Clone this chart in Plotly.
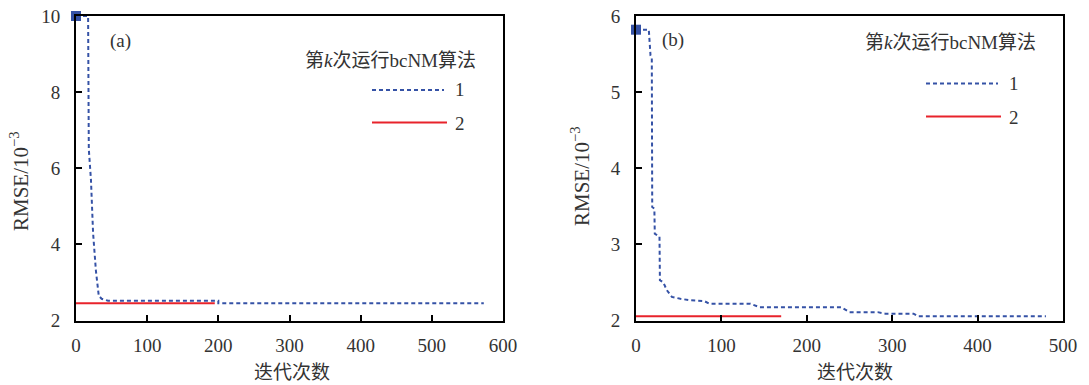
import plotly.graph_objects as go

# ---- data ----
a_run1_x = [0, 17, 18, 21, 24, 28, 32, 36, 45, 200, 200, 573]
a_run1_y = [10, 10, 6.5, 5.7, 4.3, 3.3, 2.65, 2.57, 2.52, 2.52, 2.45, 2.45]
a_run2_x = [0, 195]
a_run2_y = [2.455, 2.455]

b_run1_x = [0, 15, 17, 18.5, 19, 21.5, 22, 27.5, 28, 32, 36, 42, 52, 64, 80, 86,
            134, 145, 240, 250, 283, 292, 325, 330, 480]
b_run1_y = [5.82, 5.82, 5.48, 5.45, 3.49, 3.47, 3.14, 3.10, 2.53, 2.50, 2.40, 2.31,
            2.285, 2.265, 2.255, 2.22, 2.22, 2.175, 2.175, 2.11, 2.11, 2.09, 2.09,
            2.057, 2.057]
b_run2_x = [0, 170]
b_run2_y = [2.055, 2.055]

a_xticks = [0, 100, 200, 300, 400, 500, 600]
a_yticks = [2, 4, 6, 8, 10]
b_xticks = [0, 100, 200, 300, 400, 500]
b_yticks = [2, 3, 4, 5, 6]

legend_title = "第<i>k</i>次运行bcNM算法"
series_names = ["1", "2"]
x_title = "迭代次数"
y_title = "RMSE/10<sup>−3</sup>"

BLUE = "#3552a6"
RED = "#e8232b"
FONT = "Liberation Serif, Noto Sans CJK SC, serif"
W, H = 1089, 385

fig = go.Figure()

def add_panel(xs1, ys1, xs2, ys2, xa, ya):
    fig.add_trace(go.Scatter(x=xs1, y=ys1, mode="lines", xaxis=xa, yaxis=ya,
                             line=dict(color=BLUE, width=2, dash="4px,3px"),
                             name=series_names[0], showlegend=False))
    fig.add_trace(go.Scatter(x=xs2, y=ys2, mode="lines", xaxis=xa, yaxis=ya,
                             line=dict(color=RED, width=2),
                             name=series_names[1], showlegend=False))
    fig.add_trace(go.Scatter(x=xs1[:1], y=ys1[:1], mode="markers", xaxis=xa, yaxis=ya,
                             marker=dict(symbol="square", size=10, color=BLUE),
                             cliponaxis=False, showlegend=False, hoverinfo="skip"))

add_panel(a_run1_x, a_run1_y, a_run2_x, a_run2_y, "x", "y")
add_panel(b_run1_x, b_run1_y, b_run2_x, b_run2_y, "x2", "y2")

ydom = [1 - 320.5 / H, 1 - 16 / H]
axis_common = dict(showgrid=False, zeroline=False, showline=True, linecolor="black",
                   linewidth=2, mirror=True, ticks="inside", ticklen=6, tickwidth=1.5,
                   tickcolor="black", automargin=False,
                   tickfont=dict(family=FONT, size=19, color="#333"))

fig.update_layout(
    width=W, height=H,
    margin=dict(l=0, r=0, t=0, b=0, pad=0, autoexpand=False),
    paper_bgcolor="white", plot_bgcolor="white",
    showlegend=False,
    xaxis=dict(domain=[76 / W, 503 / W], range=[0, 600], tickvals=a_xticks,
               ticklabelstandoff=7, anchor="y", **axis_common),
    yaxis=dict(domain=ydom, range=[2, 10], tickvals=a_yticks,
               ticklabelstandoff=10, anchor="x", **axis_common),
    xaxis2=dict(domain=[636 / W, 1063 / W], range=[0, 500], tickvals=b_xticks,
                ticklabelstandoff=7, anchor="y2", **axis_common),
    yaxis2=dict(domain=ydom, range=[2, 6], tickvals=b_yticks,
                ticklabelstandoff=10, anchor="x2", **axis_common),
)

def px(x):
    return x / W

def py(y):
    return 1 - y / H

ann = []
shapes = []
def text(x, y, s, size=19, angle=0):
    ann.append(dict(x=px(x), y=py(y), xref="paper", yref="paper", text=s,
                    showarrow=False, textangle=angle, xanchor="center", yanchor="middle",
                    font=dict(family=FONT, size=size, color="#333")))

def seg(x0, x1, y, color, dash=None):
    shapes.append(dict(type="line", xref="paper", yref="paper",
                       x0=px(x0), x1=px(x1), y0=py(y), y1=py(y),
                       line=dict(color=color, width=2, dash=dash) if dash else dict(color=color, width=2)))

# axis titles
text(19, 181, y_title, size=21, angle=-90)
text(581, 176, y_title, size=21, angle=-90)
text(292, 372, x_title, size=19)
text(855, 372, x_title, size=19)
# panel labels
text(120, 41, "(a)", size=19)
text(673, 40, "(b)", size=19)
# legends
text(390, 60, legend_title, size=19)
seg(372, 444, 90, BLUE, "4px,3px")
seg(372, 447, 122.5, RED)
text(460, 90, series_names[0])
text(460, 123, series_names[1])

text(950, 42, legend_title, size=19)
seg(926, 998, 83.5, BLUE, "4px,3px")
seg(926, 1001, 116.5, RED)
text(1014, 84, series_names[0])
text(1014, 117, series_names[1])

fig.update_layout(annotations=ann, shapes=shapes)
fig.write_html(
    "out.html",
    config={"displayModeBar": False},
    post_script="document.body.style.margin='0';document.body.style.overflow='hidden';",
)
